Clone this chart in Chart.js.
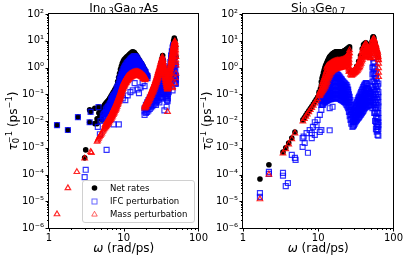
<!DOCTYPE html>
<html><head><meta charset="utf-8">
<script src="https://cdn.jsdelivr.net/npm/chart.js@4/dist/chart.umd.min.js"></script>
<style>
html,body{margin:0;padding:0;background:#fff;}
#wrap{position:relative;width:407px;height:260px;overflow:hidden;background:#fff;}
canvas{position:absolute;top:0;}
</style></head><body>
<div id="wrap"><canvas id="c1" width="212" height="260" style="left:0px"></canvas><canvas id="c2" width="207" height="260" style="left:200px"></canvas></div>
<script>
// ---- tick values ----
const xTicks = [1, 10, 100];
const yTicks = [1e-6, 1e-5, 1e-4, 1e-3, 1e-2, 1e-1, 1, 10, 100];
const seriesNames = ['Net rates', 'IFC perturbation', 'Mass perturbation'];
const titleLeft = [['In',0],['0.3',1],['Ga',0],['0.7',1],['As',0]];
const titleRight = [['Si',0],['0.3',1],['Ge',0],['0.7',1]];

// ---- In0.3Ga0.7As : rows are [omega, rate, rate, ...] ----
const gaasNet = [
 [1.28,0.007],[1.79,0.0046],[2.44,0.014],[3.0,0.00042],[3.1,0.00083],[3.5,0.009,0.026],[3.6,0.022],
 [4.1,0.008,0.03],[4.6,0.033],[5.1,0.011],[5.75,0.044],
 [4.4,0.008,0.012],[4.65,0.013,0.02],[4.95,0.015,0.025],[5.25,0.018,0.03],[5.55,0.02,0.03,0.04],
 [5.9,0.025,0.035,0.05],[6.25,0.03,0.042,0.06],[6.6,0.04,0.055,0.075],[7.0,0.05,0.07,0.1],[7.4,0.065,0.09,0.13],
 [7.85,0.09,0.12,0.17],[8.3,0.13,0.17,0.23,0.3],[8.8,0.22,0.29,0.38,0.5,0.6],[9.3,0.4,0.52,0.68,0.88,1.1],
 [9.85,0.7,0.9,1.15,1.45,1.7],[10.4,1.0,1.3,1.65,2.1],[11.0,1.3,1.65,2.05,2.5],[11.7,1.7,2.1,2.5,2.9],
 [12.4,2.0,2.45,2.9,3.4],[13.1,2.3,2.8,3.3,3.9],[13.9,2.2,2.7,3.1,3.6],[14.7,1.8,2.2,2.55,2.9],
 [15.6,1.4,1.7,1.95,2.2],[16.5,1.15,1.4,1.7],[17.5,0.95,1.15,1.35],[18.5,0.75,0.88,1.0],[19.6,0.55,0.65,0.72],[20.8,0.44,0.5],
 [4.8,0.014,0.022],[5.1,0.016,0.027],[5.4,0.019,0.027,0.035],[5.75,0.022,0.032,0.045],[6.1,0.028,0.038,0.055],
 [6.45,0.035,0.048,0.068],[6.8,0.045,0.062,0.088],[7.2,0.057,0.08,0.115],[7.6,0.075,0.105,0.15],[8.05,0.11,0.145,0.2],
 [8.55,0.17,0.23,0.32,0.42],[9.05,0.3,0.4,0.52,0.68,0.85],[9.55,0.55,0.72,0.92,1.15,1.4],[10.1,0.85,1.1,1.4,1.7,1.95],
 [10.7,1.15,1.45,1.85,2.3],[11.35,1.5,1.85,2.3,2.7],[12.05,1.85,2.25,2.7,3.15],[12.75,2.15,2.6,3.1,3.65],
 [13.5,2.3,2.75,3.2,3.75],[14.3,2.0,2.4,2.8,3.2],[15.15,1.6,1.9,2.25,2.55],[16.05,1.3,1.55,1.8,1.95],
 [17.0,1.05,1.25,1.5],[18.0,0.85,1.0,1.15],[19.05,0.65,0.77,0.85],[20.2,0.48,0.55],
 [21,0.04],[23,0.08],[25,0.14],[27,0.3],[29,0.6],[30.5,1.0],[31.5,1.5],[32.5,2.2],[33.2,2.8],[34,1.8],[35,0.9],
 [36.5,0.45],[38,0.28],[40,0.6],[41.5,1.1],[43,2.2],[44.5,4.2],[45.5,7],[46.5,10],[47.5,12.5],[48.5,10.5],[49.5,6],[50,2.5]
];
const gaasIfc = [
 [1.28,0.007],[1.79,0.0046],[2.44,0.014],[3.0,0.00008],[3.1,0.00015],[3.5,0.009],[3.6,0.022],[4.6,0.033],
 [4.5,0.006],[4.8,0.0032],[5.9,0.00083],[6.9,0.017],[7.3,0.0075],[8.6,0.0075],[4.9,0.01],
 [5.25,0.012,0.016],[5.55,0.014,0.02],[5.9,0.016,0.022,0.03],[6.25,0.02,0.027,0.037],[6.6,0.025,0.034,0.047],
 [7.0,0.03,0.042,0.058,0.075],[7.4,0.038,0.052,0.072,0.095],[7.85,0.048,0.065,0.09,0.12],
 [8.3,0.06,0.08,0.11,0.15,0.2],[8.8,0.08,0.11,0.15,0.2,0.28,0.36],[9.3,0.12,0.16,0.22,0.3,0.4,0.55],
 [9.85,0.19,0.26,0.35,0.48,0.65,0.85],[10.4,0.28,0.38,0.5,0.68,0.9,1.15],[11.0,0.38,0.5,0.66,0.88,1.15,1.45],
 [11.7,0.5,0.66,0.86,1.1,1.4,1.75],[12.4,0.6,0.78,1.0,1.3,1.65,2.1],[13.1,0.68,0.88,1.15,1.5,1.95,2.4],
 [13.9,0.72,0.93,1.2,1.6,2.1,2.7],[14.7,0.72,0.93,1.2,1.55,2.0,2.4],[15.6,0.7,0.9,1.15,1.45,1.8],
 [16.5,0.66,0.84,1.05,1.3,1.5],[17.5,0.6,0.76,0.95,1.15],[18.5,0.52,0.66,0.82],[19.6,0.45,0.56,0.68],[20.8,0.4,0.48],
 [5.4,0.013,0.018],[5.75,0.015,0.021,0.027],[6.1,0.018,0.025,0.033],[6.45,0.023,0.031,0.042],[6.8,0.028,0.038,0.052,0.065],
 [7.2,0.034,0.047,0.065,0.085],[7.6,0.043,0.058,0.08,0.105],[8.05,0.054,0.072,0.1,0.13,0.17],
 [8.55,0.07,0.095,0.13,0.175,0.24],[9.05,0.1,0.135,0.185,0.25,0.34,0.45],[9.55,0.15,0.2,0.28,0.38,0.52,0.7],
 [10.1,0.23,0.31,0.42,0.57,0.77,1.0],[10.7,0.33,0.44,0.58,0.77,1.0,1.3],[11.35,0.44,0.58,0.76,1.0,1.28,1.6],
 [12.05,0.55,0.72,0.93,1.2,1.52,1.92],[12.75,0.64,0.83,1.08,1.4,1.8,2.25],[13.5,0.7,0.9,1.17,1.55,2.0,2.55],
 [14.3,0.72,0.93,1.2,1.58,2.05,2.55],[15.15,0.71,0.92,1.17,1.5,1.9,2.2],[16.05,0.68,0.87,1.1,1.38,1.65],
 [17.0,0.63,0.8,1.0,1.22,1.35],[18.0,0.56,0.71,0.88,1.0],[19.05,0.48,0.61,0.75],[20.2,0.42,0.52],
 [8.1,0.05],[9.7,0.07],[10.5,0.06],[11.3,0.09],[12.3,0.12],[13.2,0.14],[14,0.26],[15.3,0.15],[16,0.11],
 [17.9,0.26],[19,0.2],[16.8,0.18],
 [19,0.017,0.023,0.03],[19.8,0.02,0.028,0.04],[20.6,0.022,0.03,0.04,0.05],[21.4,0.025,0.034,0.046,0.06],
 [22.3,0.028,0.038,0.052,0.075],[23.2,0.032,0.044,0.06,0.08,0.09],[24.1,0.036,0.05,0.068,0.09,0.11],
 [25,0.04,0.055,0.075,0.1,0.14],[26,0.045,0.06,0.085,0.12,0.18],[27,0.05,0.07,0.1,0.14,0.18,0.24],
 [28,0.055,0.075,0.11,0.16,0.23,0.32],[29.1,0.06,0.085,0.12,0.17,0.24,0.33,0.45],[30.2,0.07,0.1,0.14,0.2,0.3,0.45,0.65],
 [31.3,0.08,0.11,0.16,0.24,0.36,0.55,0.95],[32.4,0.1,0.14,0.2,0.3,0.45,0.7,1.0,1.4],[33.4,0.12,0.17,0.25,0.38,0.6,0.9,1.3,1.8],
 [34.3,0.12,0.17,0.25,0.38,0.6,0.85,1.1],[35.2,0.1,0.14,0.2,0.3,0.45,0.6],[36.1,0.08,0.11,0.16,0.24,0.35],
 [37,0.07,0.1,0.14,0.22],[38,0.06,0.085,0.12,0.16],[39,0.07,0.1,0.14,0.19,0.25],[40,0.12,0.17,0.24,0.35,0.5],
 [41,0.2,0.28,0.4,0.6,0.9],[42,0.3,0.45,0.65,1.0,1.6],[43,0.45,0.65,1.0,1.5,2.2,2.8],[44,0.6,0.9,1.3,2.0,3.0,4.0],
 [45,0.8,1.2,1.8,2.7,4.0,5.5],[46,0.7,1.1,1.7,2.6,4.0,5.5,7],[47,0.5,0.8,1.3,2.1,3.5,6],[48,0.3,0.5,0.8,1.4,2.5],
 [49,0.25,0.4,0.7,1.2],[50,0.25,0.35,0.5],
 [35,0.025],[37.5,0.034],[38.6,0.055],[45,0.14],[48,0.26,0.44],[49.5,0.4,1.24],[27,0.04],[30,0.05],[32,0.07],[44,0.3],[46,0.6]
];
const gaasMass = [
 [1.28,3.3e-6],[1.79,3.1e-5],[2.36,1.25e-4],[3.0,0.0004],[3.6,0.0007],[3.7,0.00065],
 [4.4,0.0017],[4.5,0.0019],[4.6,0.0022],[4.72,0.0025],[4.85,0.0028],[4.97,0.0031],[5.1,0.0035],[5.22,0.004],
 [5.35,0.0045],[5.47,0.005],[5.6,0.0055,0.0062,0.007],[5.75,0.006,0.0069,0.008],[5.9,0.0065,0.0076,0.009],
 [6.05,0.0072,0.0085,0.01],[6.2,0.008,0.0094,0.011],[6.35,0.009,0.0106,0.0125],[6.5,0.01,0.0118,0.014],
 [6.65,0.011,0.0133,0.016],[6.8,0.012,0.0147,0.018],[6.95,0.0135,0.0164,0.02],[7.1,0.015,0.0186,0.023],
 [7.25,0.017,0.021,0.026],[7.4,0.019,0.0235,0.029],[7.55,0.021,0.0263,0.033],[7.7,0.024,0.0298,0.037],
 [7.85,0.027,0.0337,0.042],[8.0,0.03,0.038,0.048],[8.15,0.035,0.044,0.055],[8.3,0.04,0.05,0.062],
 [8.45,0.046,0.057,0.07],[8.6,0.052,0.065,0.08],[8.75,0.06,0.074,0.092],[8.9,0.068,0.085,0.105],
 [9.05,0.078,0.097,0.12],[9.2,0.09,0.112,0.14],[9.35,0.105,0.13,0.16],[9.5,0.12,0.147,0.18],[9.65,0.14,0.171,0.21],
 [9.8,0.16,0.196,0.24],[10.0,0.18,0.22,0.27],[10.2,0.2,0.245,0.3],[10.4,0.22,0.27,0.33],[10.6,0.25,0.304,0.37],
 [10.8,0.27,0.33,0.4],[11.0,0.3,0.363,0.44],[11.25,0.32,0.388,0.47],[11.5,0.35,0.418,0.5],[11.75,0.37,0.439,0.52],
 [12.0,0.4,0.469,0.55],[12.3,0.42,0.494,0.58],[12.6,0.44,0.514,0.6],[12.9,0.46,0.534,0.62],[13.2,0.47,0.548,0.64],
 [13.55,0.49,0.569,0.66],[13.9,0.5,0.579,0.67],[14.25,0.51,0.589,0.68],[14.6,0.52,0.599,0.69],[14.95,0.52,0.6,0.69],
 [15.3,0.52,0.595,0.68],[15.65,0.51,0.585,0.67],[16.0,0.5,0.57,0.65],[16.4,0.48,0.55,0.63],[16.8,0.47,0.535,0.61],
 [17.2,0.45,0.51,0.58],[17.6,0.43,0.49,0.56],[18.0,0.4,0.46,0.53],[18.4,0.38,0.436,0.5],[18.8,0.36,0.41,0.47],
 [19.2,0.34,0.387,0.44],[19.6,0.36,0.41],
 [19.1,0.03,0.034,0.038],[19.6,0.032,0.037,0.043],[20,0.035,0.041,0.048],[20.5,0.04,0.047,0.055],[21,0.045,0.053,0.062],
 [21.5,0.051,0.06,0.071],[22,0.058,0.069,0.082],[22.5,0.066,0.079,0.095],[23,0.075,0.091,0.11],[23.5,0.087,0.106,0.13],
 [24,0.1,0.122,0.15],[24.5,0.115,0.142,0.175],[25,0.13,0.161,0.2],[25.5,0.15,0.186,0.23],[26,0.17,0.214,0.27],
 [26.5,0.2,0.253,0.32],[27,0.23,0.292,0.37],[27.5,0.27,0.345,0.44],[28,0.31,0.40,0.52],[28.5,0.36,0.47,0.62],
 [29,0.42,0.55,0.73],[29.5,0.49,0.65,0.86],[30,0.57,0.75,1.0],[30.5,0.66,0.89,1.2],[31,0.77,1.04,1.4],
 [31.5,0.9,1.22,1.65],[32,1.05,1.41,1.9],[32.5,1.25,1.66,2.2],[32.9,1.5,1.94,2.5],[33.4,1.3,1.61,2.0],
 [33.8,1.1,1.33,1.6],[34.2,0.9,1.08,1.3],[34.6,0.7,0.84,1.0],[35,0.6,0.71,0.85],[35.4,0.5,0.59,0.7],
 [35.8,0.4,0.48,0.57],[36.3,0.32,0.38,0.45],[36.7,0.27,0.32,0.37],[37.2,0.22,0.26,0.3],[37.7,0.19,0.22,0.25],
 [38.2,0.16,0.18,0.2],[38.6,0.15,0.17,0.2],[39,0.16,0.2,0.24],[39.4,0.2,0.24,0.29],[39.8,0.25,0.3,0.35],
 [40.2,0.3,0.36,0.44],[40.6,0.38,0.46,0.55],[41,0.47,0.57,0.68],[41.5,0.6,0.71,0.85],[41.9,0.73,0.88,1.05],
 [42.4,0.9,1.08,1.3],[42.8,1.1,1.33,1.6],[43.3,1.3,1.57,1.9],[43.7,1.6,1.92,2.3],[44.2,1.9,2.3,2.8],
 [44.7,2.3,2.8,3.4],[45.2,2.8,3.4,4.2],[45.7,3.3,4.1,5],[46.2,4,4.9,6],[46.7,4.7,5.7,7],[47.2,5.5,6.6,8],
 [47.7,6.2,7.4,8.8],[48.2,7,8.2,9.5],[48.6,6,7.3,9],[49,4,5.3,7],[49.4,2.5,3.4,4.5],[49.8,1.5,1.9,2.5],[50.2,1.2],
 [38.6,0.022],[45,0.19,0.17],[48,0.26],[50,0.6],[49,0.4]
];

// ---- Si0.3Ge0.7 ----
const sigeNet = [
 [1.68,6.8e-5],[2.21,2.3e-4],[3.4,6.9e-4],[3.7,0.001],[4.05,0.0015],[4.45,0.0023],[4.9,0.0039],
 [6.25,0.011],[6.55,0.0135],[6.85,0.0165],[7.15,0.02],[7.5,0.024],[7.85,0.029],[8.2,0.035],[8.6,0.043],
 [9.0,0.052],[9.4,0.064],[9.8,0.077],[10.25,0.094,0.12],[10.7,0.11,0.16],[11.0,0.15,0.21,0.29],[11.5,0.25,0.35,0.5],
 [12.0,0.4,0.56,0.8],[12.5,0.6,0.85,1.15],[13.0,0.85,1.15,1.5],[13.6,1.2,1.55,2.0],[14.2,1.6,2.0,2.5],
 [14.9,2.0,2.4,2.9],[15.6,2.3,2.75,3.3],[16.4,2.5,3.0,3.6],[17.2,2.7,3.2,3.9],[18.0,2.8,3.3,3.9],[18.9,2.8,3.3,3.8],
 [19.8,2.8,3.3,3.8],[20.7,2.9,3.4,3.9],[21.6,3.0,3.5,4.0],[22.6,3.2,3.7,4.3],[23.6,3.5,4.1,4.7],[24.6,3.8,4.4,5.1],
 [25.5,4.3,5.0,5.6],[26.1,5.0,6.0],
 [11.25,0.2,0.28,0.4],[11.75,0.32,0.45,0.65],[12.25,0.5,0.7,0.98],[12.75,0.72,1.0,1.32],[13.3,1.0,1.35,1.75],
 [13.9,1.4,1.78,2.25],[14.55,1.8,2.2,2.7],[15.25,2.15,2.58,3.1],[16.0,2.4,2.88,3.45],[16.8,2.6,3.1,3.75],
 [17.6,2.75,3.25,3.9],[18.45,2.8,3.3,3.85],[19.35,2.8,3.3,3.8],[20.25,2.85,3.35,3.85],[21.15,2.95,3.45,3.95],
 [22.1,3.1,3.6,4.15],[23.1,3.35,3.9,4.5],[24.1,3.65,4.25,4.9],[25.05,4.0,4.7,5.35],
 [27,0.7],[28.5,0.75],[30.5,0.8],[32.5,1.1],[34.5,1.7],[36.5,2.8],[38.5,5.0],[39.4,5],[40,7.0],[41,7.5],[42,8.0],
 [43,8.3],[44,7.5],[45,7],[46,5.5],[48,5.0],[50,6.5],[52,9.5],[53,12],[53.5,13.8],[54,14],[55,12.5],[57,8],
 [59,5.5],[61,3.8],[62.5,2.5]
];
const sigeIfc = [
 [1.68,2e-5,1.45e-5],[2.21,1.26e-4,1.05e-4],[3.4,1.15e-4,9e-5],[3.95,4.8e-5],[3.7,3.7e-5],[4.45,5.4e-4],
 [4.9,4.2e-4],[5.0,3.5e-4],[6.2,0.00107,0.0023],[7.3,0.00065],[6.4,0.0026],[6.6,0.0015],[7.0,0.0035],
 [7.7,0.0046],[8.2,0.0023,0.0035],[8.5,0.006],[9.0,0.003,0.009],[9.5,0.007],[9.8,0.011],[10.5,0.0039,0.017],
 [11,0.0046,0.026],[11.5,0.04],[12.9,0.06],[14.2,0.0045,0.03],[15.5,0.034],[15,0.08],[63,0.0028],
 [11.0,0.04,0.055,0.075,0.09],[11.5,0.045,0.06,0.08,0.11],[12.1,0.05,0.068,0.09,0.115,0.14],
 [12.7,0.055,0.075,0.1,0.14,0.19],[13.3,0.06,0.08,0.11,0.15,0.19,0.24],[14.0,0.065,0.085,0.12,0.16,0.22,0.3],
 [14.7,0.065,0.09,0.13,0.18,0.26,0.38],[15.4,0.07,0.095,0.14,0.2,0.3,0.45],[16.2,0.07,0.1,0.14,0.2,0.29,0.4,0.52],
 [17.0,0.075,0.1,0.14,0.2,0.3,0.42,0.55],[17.8,0.075,0.1,0.14,0.2,0.3,0.42,0.55],[18.7,0.07,0.1,0.14,0.2,0.28,0.4,0.5],
 [19.6,0.065,0.09,0.13,0.18,0.25,0.33,0.42],[20.6,0.06,0.085,0.12,0.17,0.24,0.35],[21.6,0.055,0.08,0.11,0.15,0.21,0.29],
 [22.7,0.05,0.07,0.1,0.14,0.19,0.25],[23.8,0.04,0.06,0.085,0.12,0.16,0.22],[25.0,0.03,0.045,0.065,0.09,0.12,0.15],
 [26.2,0.015,0.023,0.035,0.05,0.08],[27.5,0.008,0.012,0.018,0.027,0.04],
 [11.25,0.042,0.058,0.078,0.1],[11.8,0.048,0.064,0.085,0.11,0.125],[12.4,0.052,0.07,0.095,0.125,0.16],
 [13.0,0.057,0.078,0.105,0.145,0.2,0.22],[13.65,0.062,0.083,0.115,0.155,0.2,0.27],[14.35,0.065,0.088,0.125,0.17,0.24,0.34],
 [15.05,0.068,0.092,0.135,0.19,0.28,0.41],[15.8,0.07,0.097,0.14,0.2,0.29,0.42,0.49],[16.6,0.072,0.1,0.14,0.2,0.29,0.41,0.54],
 [17.4,0.075,0.1,0.14,0.2,0.3,0.42,0.55],[18.25,0.072,0.1,0.14,0.2,0.29,0.41,0.53],[19.15,0.068,0.095,0.135,0.19,0.26,0.36,0.46],
 [20.1,0.062,0.088,0.125,0.175,0.245,0.38],[21.1,0.058,0.082,0.115,0.16,0.22,0.31],[22.15,0.052,0.075,0.105,0.145,0.2,0.27],
 [23.25,0.045,0.065,0.092,0.13,0.175,0.23],[24.4,0.035,0.052,0.075,0.105,0.14,0.19],[25.6,0.022,0.034,0.05,0.07,0.1],
 [26.85,0.011,0.017,0.026,0.038,0.06],
 [28.5,0.006,0.009,0.013,0.02],[29.8,0.007,0.01,0.015,0.025],[31.2,0.009,0.013,0.02,0.027,0.035],
 [32.6,0.011,0.016,0.024,0.035,0.05],[34.1,0.013,0.019,0.028,0.04,0.055,0.07],[35.6,0.015,0.022,0.032,0.046,0.065,0.09],
 [37.2,0.018,0.026,0.038,0.055,0.08,0.12],[38.9,0.022,0.032,0.046,0.07,0.1,0.16],[40.6,0.027,0.04,0.058,0.085,0.13,0.21],
 [42.4,0.032,0.046,0.068,0.1,0.15,0.25],[44.3,0.036,0.05,0.075,0.11,0.17,0.25],[46.3,0.04,0.055,0.08,0.11,0.15],
 [48.4,0.04,0.055,0.075,0.11],[50.5,0.035,0.05,0.07,0.1,0.13],
 [29.1,0.0065,0.0095,0.014,0.022],[30.5,0.008,0.0115,0.017,0.024,0.03],[31.9,0.01,0.0145,0.022,0.031,0.042],
 [33.3,0.012,0.0175,0.026,0.037,0.05,0.06],[34.8,0.014,0.02,0.03,0.043,0.06,0.08],[36.4,0.017,0.024,0.035,0.05,0.072,0.105],
 [38,0.02,0.029,0.042,0.062,0.09,0.14],[39.7,0.024,0.036,0.052,0.077,0.115,0.185],[41.5,0.03,0.043,0.063,0.092,0.14,0.23],
 [43.3,0.034,0.048,0.07,0.105,0.16,0.26],[45.3,0.038,0.052,0.078,0.11,0.16,0.21],[47.3,0.04,0.055,0.078,0.11,0.13],
 [49.4,0.038,0.052,0.072,0.1,0.12],
 [52.5,0.03,0.06,0.1,0.18,0.3,0.55,1.0],[54,0.05,0.09,0.15,0.3,0.6,1.0,1.5,2.2],[55.5,0.02,0.04,0.08,0.15,0.3,0.55,0.9,1.6],
 [57,0.01,0.02,0.03,0.06,0.12,0.25,0.5,1.1],[58.5,0.005,0.009,0.015,0.03,0.05,0.1,0.2,0.4,0.6],
 [60,0.004,0.006,0.008,0.013,0.02,0.04,0.07,0.15,0.3],[61.5,0.003,0.0045,0.006,0.009,0.012,0.02,0.03,0.06,0.1,0.2],
 [63,0.005,0.007,0.009,0.013,0.02,0.035,0.05,0.08,0.12,0.25]
];
const sigeMass = [
 [1.68,1.2e-5],[2.21,1.0e-4],[3.4,6.2e-4],[3.7,9e-4],[4.05,1.35e-3],[4.45,2.1e-3],[4.9,3.5e-3],
 [6.25,0.0098],[6.55,0.012],[6.85,0.0146],[7.15,0.0177],[7.5,0.0215],[7.85,0.026],[8.2,0.031],[8.6,0.038],
 [9.0,0.046],[9.4,0.056],[9.8,0.066],[10.25,0.085,0.1],[10.7,0.1,0.13],[11.2,0.12,0.17,0.22],[11.7,0.15,0.22,0.32],
 [12.2,0.18,0.28,0.45],[12.7,0.23,0.38,0.65],[13.2,0.3,0.5,0.85,1.15],[13.8,0.42,0.65,0.95,1.25],
 [14.4,0.55,0.8,1.05,1.35],[15.1,0.68,0.9,1.15,1.5],[15.8,0.78,1.0,1.25,1.6],[16.6,0.84,1.05,1.3,1.7],
 [17.4,0.9,1.1,1.35,1.75],[18.2,0.93,1.15,1.4,1.8],[19.1,0.96,1.2,1.45,1.8],[20.0,1.0,1.25,1.5,1.85],
 [20.9,1.03,1.3,1.55,1.9],[21.9,1.07,1.35,1.65,2.0],[22.9,1.1,1.4,1.75,2.15],[23.9,1.15,1.5,1.9,2.4],
 [24.9,1.2,1.65,2.2,2.9],[25.7,1.5,2.0,2.7,3.5],[26.1,3.5,4.5],
 [10.5,0.09,0.115],[10.95,0.11,0.15],[11.45,0.135,0.19,0.27],[11.95,0.165,0.25,0.38],[12.45,0.2,0.33,0.55],
 [12.95,0.26,0.44,0.75,1.0],[13.5,0.36,0.57,0.88,1.2],[14.1,0.48,0.72,1.0,1.3],[14.75,0.62,0.85,1.1,1.42],
 [15.45,0.73,0.95,1.2,1.55],[16.2,0.81,1.02,1.28,1.65],[17.0,0.87,1.08,1.32,1.72],[17.8,0.92,1.12,1.38,1.78],
 [18.65,0.95,1.18,1.42,1.8],[19.55,0.98,1.22,1.48,1.82],[20.45,1.01,1.28,1.52,1.88],[21.4,1.05,1.32,1.6,1.95],
 [22.4,1.08,1.38,1.7,2.08],[23.4,1.12,1.45,1.82,2.28],[24.4,1.18,1.58,2.05,2.65],[25.3,1.35,1.8,2.45,3.2],
 [25.5,0.7,0.85,1.0],[26,0.7,0.95],[26.8,0.55,0.75],[27.6,0.5,0.65],[28.4,0.52,0.68],[29.2,0.56,0.72],
 [30,0.6,0.77],[30.8,0.63,0.85],[31.6,0.68,0.92],[32.4,0.72,1.0],[33.2,0.77,1.12],[34,0.85,1.3],[34.8,0.95,1.5],
 [35.6,1.05,1.4,1.8],[36.4,1.2,1.6,2.2],[37.2,1.4,2.0,2.8],[38,1.7,2.5,3.6],[38.8,2.0,3.0,4.4],[39.6,2.3,3.5,5.2],
 [40.4,2.5,3.9,5.9],[41.3,2.7,4.2,6.6],[42.2,2.8,4.5,7.3],[43.1,2.9,4.6,7.6],[44,3,4.5,7],[44.9,3,4.2,6.2],
 [45.8,2.9,3.9,5.4],[46.7,2.7,3.6,4.9],[47.6,2.5,3.4,4.6],[48.5,2.3,3.3,4.7],[49.4,2.2,3.4,5.2],[50.3,2.3,3.7,5.9],
 [51.2,2.7,4.4,7.2],[52.1,3.2,5.3,8.7],[53,4.0,6.5,10.3],[53.9,4.8,7.7,11.5],[54.8,5.5,8.2,12],[55.7,6.2,8.3,10.8],
 [56.6,5.5,7.0,8.8],[57.5,4.6,6.0,7.6],[58.4,4.1,5.3,6.9],[59.3,3.6,4.6,5.8],[60.2,3.1,3.9,4.8],[61.1,2.7,3.3,4.1],
 [62,2.3,2.9,3.6],[62.8,2.0,2.5],[63.5,1.9,1.4,0.95,0.65,0.45]
];

function pts(rows){ const out=[]; for(const r of rows){ for(let i=1;i<r.length;i++) out.push({x:r[0], y:r[i]}); } return out; }

const FONT = '"DejaVu Sans", sans-serif';
const SUP = {'-':'\u207B','0':'\u2070','1':'\u00B9','2':'\u00B2','3':'\u00B3','4':'\u2074','5':'\u2075','6':'\u2076','7':'\u2077','8':'\u2078','9':'\u2079'};
function decLabel(v){ const e=Math.round(Math.log10(v)); return '10'+String(e).split('').map(c=>SUP[c]).join(''); }

const styles = [
 {pointStyle:'circle', pointRadius:2.8, backgroundColor:'#000', borderColor:'#000', borderWidth:0, order:3},
 {pointStyle:'rect', pointRadius:3.5, backgroundColor:'rgba(0,0,0,0)', borderColor:'rgba(0,0,255,0.8)', borderWidth:1.2, order:2},
 {pointStyle:'triangle', pointRadius:3.2, backgroundColor:'rgba(0,0,0,0)', borderColor:'rgba(255,0,0,0.85)', borderWidth:1.2, order:1}
];

function drawMarker(ctx, i, x, y){
  ctx.save();
  ctx.lineWidth = 1;
  if(i===0){ ctx.fillStyle='#000'; ctx.beginPath(); ctx.arc(x,y,2.8,0,Math.PI*2); ctx.fill(); }
  else if(i===1){ ctx.strokeStyle='rgba(0,0,255,0.6)'; const h=2.5; ctx.strokeRect(x-h,y-h,2*h,2*h); }
  else { ctx.strokeStyle='rgba(255,0,0,0.6)'; const r=3.2; ctx.beginPath();
    for(let k=0;k<3;k++){ const a=-Math.PI/2+k*2*Math.PI/3; const px=x+r*Math.cos(a), py=y+r*Math.sin(a); if(k===0) ctx.moveTo(px,py); else ctx.lineTo(px,py);} ctx.closePath(); ctx.stroke(); }
  ctx.restore();
}

function drawParts(ctx, parts, cx, base, size){
  let w=0; const sub=size*0.7;
  for(const [t,m] of parts){ ctx.font=(m?sub:size)+'px '+FONT; w+=ctx.measureText(t).width; }
  let x=cx-w/2;
  ctx.textAlign='left'; ctx.textBaseline='alphabetic'; ctx.fillStyle='#000';
  for(const [t,m] of parts){ ctx.font=(m?sub:size)+'px '+FONT; ctx.fillText(t,x,base+(m?size*0.22:0)); x+=ctx.measureText(t).width; }
}

function makePlugin(title, withLegend){
  return {
    id:'deco',
    afterDraw(chart){
      const ctx=chart.ctx, a=chart.chartArea, xs=chart.scales.x, ys=chart.scales.y;
      ctx.save();
      ctx.strokeStyle='#000'; ctx.lineWidth=1;
      ctx.strokeRect(Math.round(a.left)-0.5, Math.round(a.top)-0.5, Math.round(a.right-a.left)+1, Math.round(a.bottom-a.top)+1);
      ctx.beginPath();
      for(let e=0;e<=2;e++) for(let m=1;m<=9;m++){ const v=m*Math.pow(10,e); if(v>100) break;
        const px=Math.round(xs.getPixelForValue(v))+0.5; const len=m===1?3.5:2;
        ctx.moveTo(px,a.bottom); ctx.lineTo(px,a.bottom+len); }
      for(let e=-6;e<=2;e++) for(let m=1;m<=9;m++){ const v=m*Math.pow(10,e); if(v>100) break;
        const py=Math.round(ys.getPixelForValue(v))+0.5; const len=m===1?3.5:2;
        ctx.moveTo(a.left,py); ctx.lineTo(a.left-len,py); }
      ctx.stroke();
      drawParts(ctx, title, (a.left+a.right)/2, 11.5, 12);
      const cx=(a.left+a.right)/2;
      ctx.font='12px '+FONT; const wRest=ctx.measureText(' (rad/ps)').width;
      ctx.font='italic 12px '+FONT; const wO=ctx.measureText('\u03C9').width;
      let x0=cx-(wO+wRest)/2;
      ctx.fillStyle='#000'; ctx.textBaseline='alphabetic'; ctx.textAlign='left';
      ctx.fillText('\u03C9',x0,252);
      ctx.font='12px '+FONT; ctx.fillText(' (rad/ps)',x0+wO,252);
      ctx.save();
      ctx.translate(a.left-36.5,(a.top+a.bottom)/2);
      ctx.rotate(-Math.PI/2);
      ctx.font='italic 12px '+FONT; const wt=ctx.measureText('\u03C4').width;
      ctx.font='8.4px '+FONT; const ws=Math.max(ctx.measureText('0').width, ctx.measureText('\u22121').width);
      ctx.font='12px '+FONT; const wp=ctx.measureText(' (ps').width;
      ctx.font='8.4px '+FONT; const wsup=ctx.measureText('\u22121').width;
      ctx.font='12px '+FONT; const wc=ctx.measureText(')').width;
      const tot=wt+ws+wp+wsup+wc; let xx=-tot/2; const b=4;
      ctx.font='italic 12px '+FONT; ctx.fillText('\u03C4',xx,b); xx+=wt;
      ctx.font='8.4px '+FONT; ctx.fillText('0',xx,b+2.5); ctx.fillText('\u22121',xx,b-5); xx+=ws;
      ctx.font='12px '+FONT; ctx.fillText(' (ps',xx,b); xx+=wp;
      ctx.font='8.4px '+FONT; ctx.fillText('\u22121',xx,b-5); xx+=wsup;
      ctx.font='12px '+FONT; ctx.fillText(')',xx,b);
      ctx.restore();
      if(withLegend){
        const L=82, T=180, W=112, H=42, r=2.5;
        ctx.fillStyle='rgba(255,255,255,0.8)'; ctx.strokeStyle='#d0d0d0'; ctx.lineWidth=1;
        ctx.beginPath(); ctx.moveTo(L+r+0.5,T+0.5); ctx.arcTo(L+W+0.5,T+0.5,L+W+0.5,T+H+0.5,r); ctx.arcTo(L+W+0.5,T+H+0.5,L+0.5,T+H+0.5,r);
        ctx.arcTo(L+0.5,T+H+0.5,L+0.5,T+0.5,r); ctx.arcTo(L+0.5,T+0.5,L+W+0.5,T+0.5,r); ctx.closePath(); ctx.fill(); ctx.stroke();
        const rows=[188,201.5,214.5];
        ctx.font='8.5px '+FONT; ctx.textBaseline='middle'; ctx.textAlign='left';
        seriesNames.forEach((n,i)=>{ drawMarker(ctx,i,94.5,rows[i]); ctx.fillStyle='#000'; ctx.fillText(n,110,rows[i]+0.5); });
      }
      ctx.restore();
    }
  };
}

function makeChart(id, sets, title, yw, padRight, withLegend){
  const datasets = sets.map((rows,i)=>Object.assign({label:seriesNames[i], data:pts(rows)}, styles[i]));
  return new Chart(document.getElementById(id), {
    type:'scatter',
    data:{datasets},
    options:{
      responsive:false, animation:false, devicePixelRatio:1,
      layout:{padding:{top:14,right:padRight,left:0,bottom:0}},
      plugins:{legend:{display:false}, tooltip:{enabled:false}},
      scales:{
        x:{type:'logarithmic', min:1, max:100,
           afterBuildTicks:(s)=>{ s.ticks = xTicks.map(v=>({value:v})); },
           afterFit:(s)=>{ s.height=32; },
           grid:{display:false, drawTicks:false}, border:{display:false},
           ticks:{autoSkip:false, maxRotation:0, padding:4, color:'#000', font:{family:FONT,size:10}, callback:(v)=>String(v)}},
        y:{type:'logarithmic', min:1e-6, max:100,
           afterBuildTicks:(s)=>{ s.ticks = yTicks.map(v=>({value:v})); },
           afterFit:(s)=>{ s.width=yw; },
           grid:{display:false, drawTicks:false}, border:{display:false},
           ticks:{autoSkip:false, padding:5, color:'#000', font:{family:FONT,size:10}, callback:(v)=>decLabel(v)}}
      }
    },
    plugins:[makePlugin(title, withLegend)]
  });
}

makeChart('c1', [gaasNet, gaasIfc, gaasMass], titleLeft, 49, 13, true);
makeChart('c2', [sigeNet, sigeIfc, sigeMass], titleRight, 43, 13, false);
</script></body></html>
